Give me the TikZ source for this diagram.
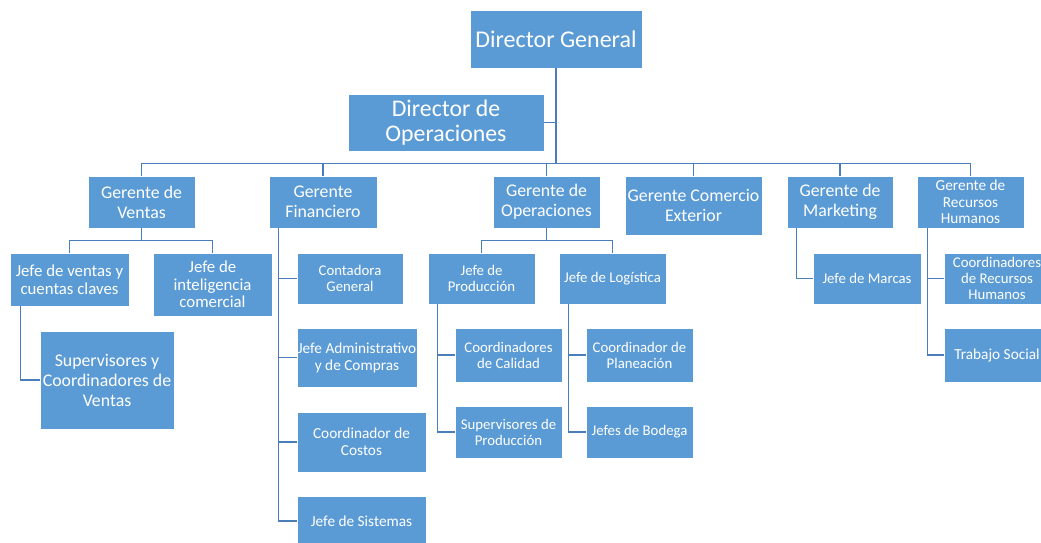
\documentclass[tikz,border=0pt]{standalone}
\usepackage{fontspec}
\setmainfont{Carlito}
\usepackage{tikz}
\usetikzlibrary{positioning}

\definecolor{boxblue}{HTML}{5B9BD5}
\definecolor{linkblue}{HTML}{4A7EBB}

\begin{document}
\begin{tikzpicture}[
  x=1pt, y=-1pt,
  box/.style={rectangle,draw=white,line width=0.8pt,fill=boxblue,text=white,
              align=center,inner sep=0pt},
  fhuge/.style={font=\fontsize{24}{28}\selectfont},
  flarge/.style={font=\fontsize{23.8}{25}\selectfont},
  fmid/.style={font=\fontsize{17.8}{20}\selectfont},
  fsmall/.style={font=\fontsize{16.8}{17.5}\selectfont},
  fsub/.style={font=\fontsize{15.3}{17}\selectfont},
  ftiny/.style={font=\fontsize{14.8}{16}\selectfont},
  link/.style={draw=linkblue,line width=1.5pt}
]
  \useasboundingbox (0,0) rectangle (1041,542);

  % Top
  \node[box,fhuge,minimum width=172,minimum height=58] (dg) at (556,39) {Director General};
  \node[box,flarge,minimum width=196,minimum height=57] (dop) at (446,122.5) {Director de\\Operaciones};

  % Gerentes
  \node[box,fmid,minimum width=107,minimum height=52] (gv) at (141.5,202) {Gerente de\\Ventas};
  \node[box,fmid,minimum width=108,minimum height=52] (gf) at (323,202) {Gerente\\Financiero};
  \node[box,fmid,minimum width=107,minimum height=52] (go) at (546.5,202) {Gerente de\\Operaciones};
  \node[box,fmid,minimum width=137,minimum height=59] (gce) at (693.5,205.5) {Gerente Comercio\\Exterior};
  \node[box,fmid,minimum width=106,minimum height=52] (gm) at (840,202) {Gerente de\\Marketing};
  \node[box,minimum width=107,minimum height=52,font=\fontsize{15.3}{16.5}\selectfont] (grh) at (970.5,202) {Gerente de\\Recursos\\Humanos};

  % Ventas
  \node[box,fsmall,minimum width=119,minimum height=53] (jvc) at (69.5,279.5) {Jefe de ventas y\\cuentas claves};
  \node[box,fsmall,minimum width=119,minimum height=63] (jic) at (212.5,284.5) {Jefe de\\inteligencia\\comercial};
  \node[box,fmid,minimum width=134,minimum height=98] (sup) at (107,380) {Supervisores y\\Coordinadores de\\Ventas};

  % Financiero
  \node[box,ftiny,minimum width=106,minimum height=51] (cg) at (350,278.5) {Contadora\\General};
  \node[box,fsub,minimum width=120,minimum height=59] (jac) at (357,357.5) {Jefe Administrativo\\y de Compras};
  \node[box,fsub,minimum width=129,minimum height=60] (cc) at (361.5,442) {Coordinador de\\Costos};
  \node[box,fsub,minimum width=129,minimum height=50] (js) at (361.5,521) {Jefe de Sistemas};

  % Operaciones
  \node[box,ftiny,minimum width=107,minimum height=51] (jp) at (481.5,278.5) {Jefe de\\Producción};
  \node[box,ftiny,minimum width=107,minimum height=51] (jl) at (612.5,278.5) {Jefe de Logística};
  \node[box,ftiny,minimum width=107,minimum height=54] (cca) at (508.5,355) {Coordinadores\\de Calidad};
  \node[box,ftiny,minimum width=107,minimum height=52] (spr) at (508.5,432) {Supervisores de\\Producción};
  \node[box,ftiny,minimum width=107,minimum height=54] (cpl) at (639.5,355) {Coordinador de\\Planeación};
  \node[box,ftiny,minimum width=107,minimum height=52] (jb) at (639.5,432) {Jefes de Bodega};

  % Marketing y RRHH
  \node[box,ftiny,minimum width=108,minimum height=51] (jm) at (867,278.5) {Jefe de Marcas};
  \node[box,ftiny,minimum width=106,minimum height=51] (crh) at (997,278.5) {Coordinadores\\de Recursos\\Humanos};
  \node[box,fsub,minimum width=106,minimum height=54] (ts) at (997,355) {Trabajo Social};

  % Connectors
  \draw[link] (dg.south) |- (dop.east);
  \foreach \g in {gv,gf,go,gce,gm,grh}
    \draw[link] (dg.south) -- ++(0,95) -| (\g.north);

  \draw[link] (gv.south) -- ++(0,12) -| (jvc.north);
  \draw[link] (gv.south) -- ++(0,12) -| (jic.north);
  \draw[link] ([xshift=11pt]jvc.south west) |- (sup.west);

  \foreach \c in {cg,jac,cc,js}
    \draw[link] ([xshift=10pt]gf.south west) |- (\c.west);

  \draw[link] (go.south) -- ++(0,12) -| (jp.north);
  \draw[link] (go.south) -- ++(0,12) -| (jl.north);
  \foreach \c in {cca,spr}
    \draw[link] ([xshift=10pt]jp.south west) |- (\c.west);
  \foreach \c in {cpl,jb}
    \draw[link] ([xshift=10pt]jl.south west) |- (\c.west);

  \draw[link] ([xshift=10pt]gm.south west) |- (jm.west);
  \foreach \c in {crh,ts}
    \draw[link] ([xshift=11pt]grh.south west) |- (\c.west);
\end{tikzpicture}
\end{document}
